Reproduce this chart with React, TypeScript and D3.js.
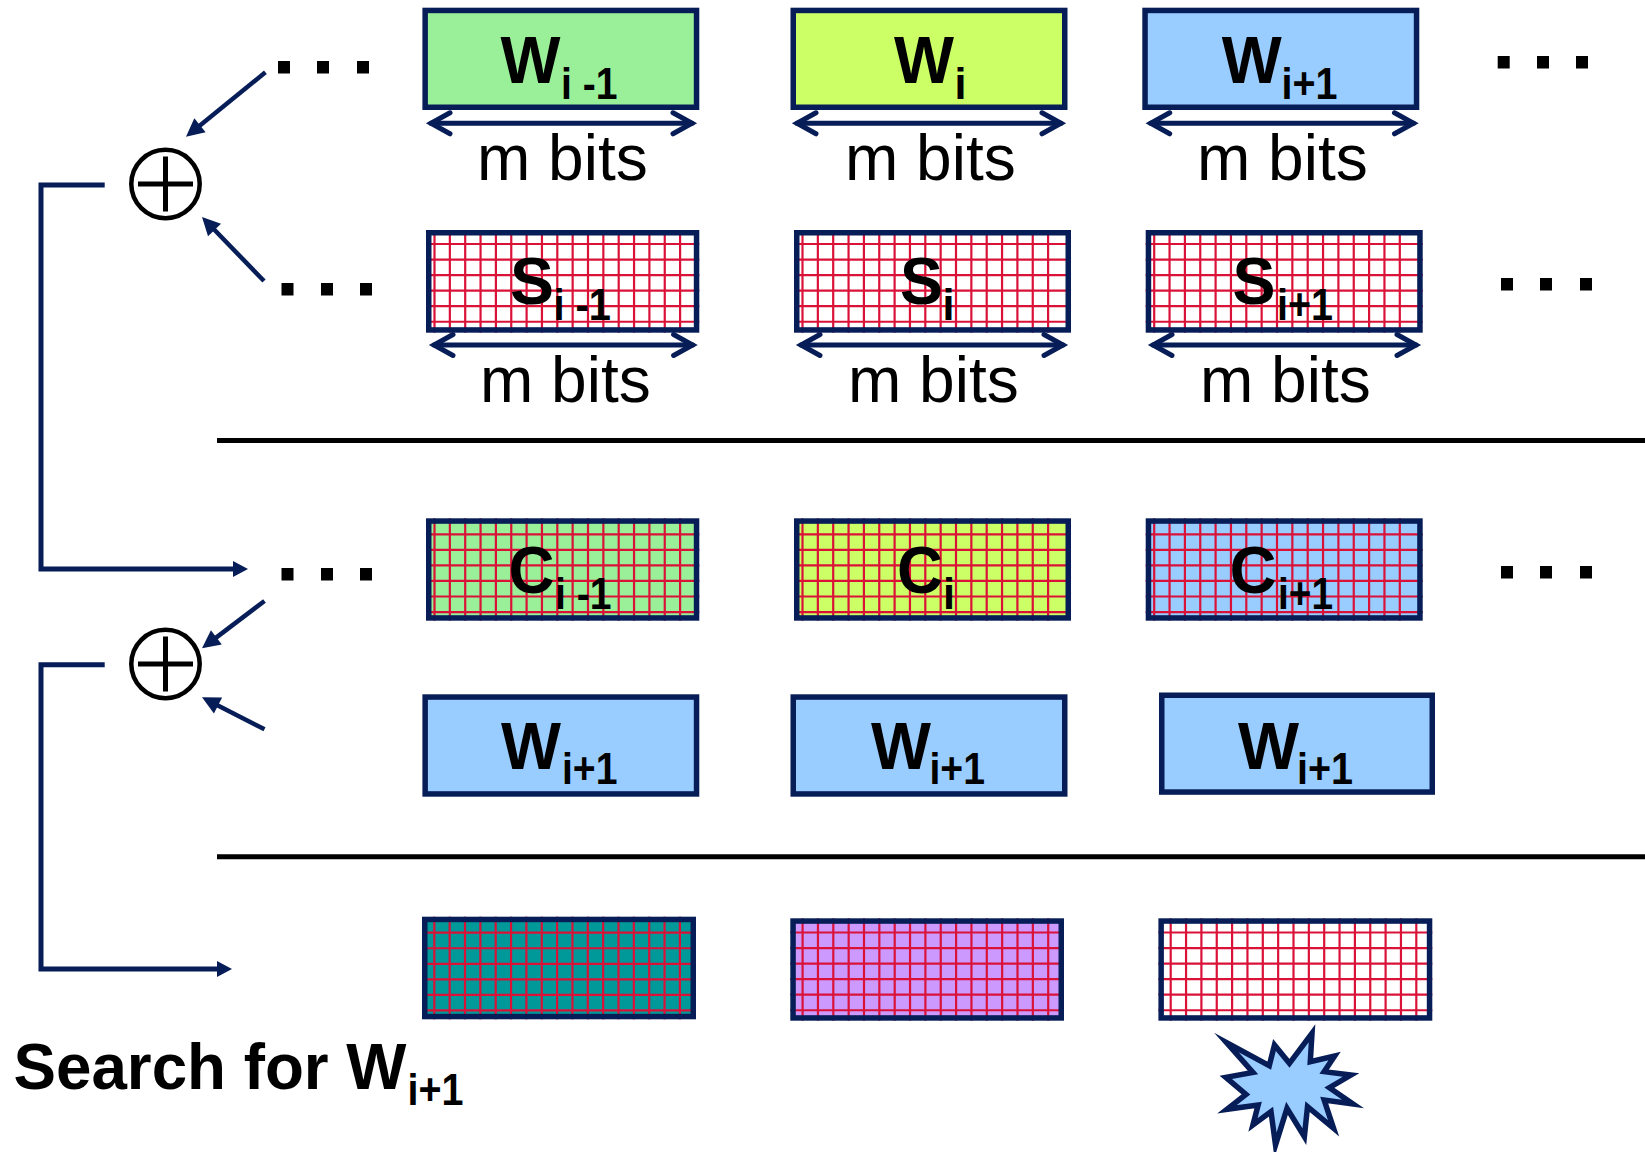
import React from "react";
import * as d3 from "d3";

// ---- content ----
const subscripts = ["i -1", "i", "i+1"];
const nextSubscripts = ["i+1", "i+1", "i+1"];
const rowLetters = ["W", "S", "C", "W"];
const wordFills = ["#99F099", "#CCFF66", "#99CCFF"];
const nextFill = "#99CCFF";
const resultFills = ["#009999", "#CC99FF", "#FFFFFF"];
const bitsLabel = "m bits";
const titleWord = "Search for W";
const titleSub = "i+1";

const NAVY = "#071D57";
const RED = "#DA1238";
const FONT = "'Liberation Sans', Arial, sans-serif";

// ---- layout (reference pixels) ----
const W = 1645, H = 1152;
const colsA = [[422.4, 699.3], [790.5, 1067.5], [1142.3, 1419.3]];
const colsB = [[426, 699.3], [794, 1071], [1145.7, 1422.7]];
const colsW2 = [[422.4, 699.3], [790.5, 1067.5], [1159, 1435]];
const colsG = [[422, 696], [790.3, 1064], [1158.4, 1432.3]];
const rowW = [7.7, 110];
const rowS = [230, 332.7];
const rowC = [518.3, 620.7];
const rowsW2 = [[694.3, 796.7], [694.3, 796.7], [692.5, 794.8]];
const rowsG = [[916.7, 1019.3], [918.3, 1020.7], [918.3, 1020.7]];

const gridVCount = 17, gridHCount = 6, gridVStep = 15.35, gridHStep = 15.55;

const labelGeom = [
  { base: 82.7, subBase: 98.7, mains: [[500.5, 60], [894, 60], [1221.7, 60]], subs: [[561, 56.5], [954.5, 12], [1281.5, 56]] },
  { base: 304, subBase: 320, mains: [[510, 44], [900, 43], [1232.5, 43]], subs: [[553.5, 57.5], [942.5, 12], [1277, 56]] },
  { base: 593, subBase: 609, mains: [[508.6, 46], [897, 46], [1229.5, 47]], subs: [[555, 56.5], [943, 12], [1278, 55]] },
  { base: 769, subBase: 784, mains: [[501, 60], [871, 60], [1238, 61]], subs: [[562, 55.5], [929.5, 55.5], [1297, 56]] },
];
const bitsRows = [
  { base: 179.5, textX: [477, 845, 1197], arrowY: 123.3, arrows: [[426, 697], [792, 1066], [1145.7, 1418.5]] },
  { base: 401.5, textX: [480, 848, 1200], arrowY: 345, arrows: [[429, 697.6], [796, 1068], [1148, 1421]] },
];
const dotRows = [
  { y: 61, xs: [278, 317, 357] },
  { y: 283, xs: [281.5, 321, 360] },
  { y: 568, xs: [281.5, 321, 360] },
  { y: 56, xs: [1497.7, 1537, 1576] },
  { y: 278, xs: [1501, 1540, 1580] },
  { y: 566, xs: [1501, 1540, 1580] },
];
const xorCentres = [[165.5, 184], [165.5, 664]];
const inputArrows = [
  [[265.4, 72.3], [186, 136.7]],
  [[264, 281], [202, 217]],
  [[264.5, 601], [202, 648.3]],
  [[264.5, 729.3], [202, 697.3]],
];
const connectors = [
  [[104.7, 185], [41, 185], [41, 569], [248, 569]],
  [[104.7, 664.7], [41, 664.7], [41, 969], [232, 969]],
];
const separators = [440.6, 856.7];
const starPoints = [
  [610, 460], [605, 545], [675, 528], [645, 575], [722, 585], [660, 623], [728, 672], [645, 660],
  [672, 745], [597, 680], [588, 770], [538, 685], [505, 795], [492, 695], [440, 735], [455, 675],
  [365, 688], [420, 643], [362, 592], [440, 577], [364, 488], [487, 557], [502, 495], [545, 550],
];
const starX = d3.scaleLinear().domain([0, 1568]).range([1100, 1645]);
const starY = d3.scaleLinear().domain([0, 816]).range([880, 1152]);

const path = d3.line<number[]>().x((d) => d[0]).y((d) => d[1]);

function head(from: number[], tip: number[], len: number, half: number) {
  const dx = tip[0] - from[0], dy = tip[1] - from[1];
  const n = Math.hypot(dx, dy);
  const ux = dx / n, uy = dy / n;
  const bx = tip[0] - ux * len, by = tip[1] - uy * len;
  return [[tip[0], tip[1]], [bx - uy * half, by + ux * half], [bx + uy * half, by - ux * half]];
}

function Box({ x, y, fill, grid, gx, gy }: any) {
  const vx = d3.scaleLinear().domain([0, 1]).range([x[0] + gx, x[0] + gx + gridVStep]);
  const hy = d3.scaleLinear().domain([0, 1]).range([y[0] + gy, y[0] + gy + gridHStep]);
  return (
    <g>
      <rect x={x[0] + 2.75} y={y[0] + 2.75} width={x[1] - x[0] - 5.5} height={y[1] - y[0] - 5.5} fill={fill} />
      {grid &&
        d3.range(gridVCount).map((i) => (
          <line key={"v" + i} x1={vx(i)} x2={vx(i)} y1={y[0]} y2={y[1]} stroke={RED} strokeWidth={2.2} />
        ))}
      {grid &&
        d3.range(gridHCount).map((i) => (
          <line key={"h" + i} x1={x[0]} x2={x[1]} y1={hy(i)} y2={hy(i)} stroke={RED} strokeWidth={2.2} />
        ))}
      <rect x={x[0] + 2.75} y={y[0] + 2.75} width={x[1] - x[0] - 5.5} height={y[1] - y[0] - 5.5} fill="none" stroke={NAVY} strokeWidth={5.5} />
    </g>
  );
}

function Label({ row, col, sub }: any) {
  const g = labelGeom[row];
  const [mx, mw] = g.mains[col];
  const [sx, sw] = g.subs[col];
  return (
    <g fontFamily={FONT} fontWeight="bold" fill="#000">
      <text x={mx} y={g.base} fontSize={67} textLength={mw} lengthAdjust="spacingAndGlyphs">{rowLetters[row]}</text>
      <text x={sx} y={g.subBase} fontSize={44} textLength={sw} lengthAdjust="spacingAndGlyphs">{sub}</text>
    </g>
  );
}

function DoubleArrow({ x0, x1, y }: any) {
  return (
    <g fill="none" stroke={NAVY} strokeWidth={5} strokeLinecap="round" strokeLinejoin="miter">
      <path d={path([[x0 + 5, y], [x1 - 5, y]]) as string} />
      <path d={path([[x0 + 24, y - 10.5], [x0 + 5, y], [x0 + 24, y + 10.5]]) as string} />
      <path d={path([[x1 - 24, y - 10.5], [x1 - 5, y], [x1 - 24, y + 10.5]]) as string} />
    </g>
  );
}

export default function App() {
  return (
    <svg width={W} height={H} viewBox={`0 0 ${W} ${H}`} style={{ position: "absolute", left: 0, top: 0, display: "block", background: "#fff" }}>
      {/* boxes */}
      {colsA.map((x, i) => <Box key={"w" + i} x={x} y={rowW} fill={wordFills[i]} />)}
      {colsB.map((x, i) => <Box key={"s" + i} x={x} y={rowS} fill="#fff" grid gx={8.5} gy={14} />)}
      {colsB.map((x, i) => <Box key={"c" + i} x={x} y={rowC} fill={wordFills[i]} grid gx={8.5} gy={16} />)}
      {colsW2.map((x, i) => <Box key={"n" + i} x={x} y={rowsW2[i]} fill={nextFill} />)}
      {colsG.map((x, i) => <Box key={"g" + i} x={x} y={rowsG[i]} fill={resultFills[i]} grid gx={12.3} gy={i === 0 ? 16 : 14.2} />)}

      {/* labels */}
      {subscripts.map((s, i) => <Label key={"lw" + i} row={0} col={i} sub={s} />)}
      {subscripts.map((s, i) => <Label key={"ls" + i} row={1} col={i} sub={s} />)}
      {subscripts.map((s, i) => <Label key={"lc" + i} row={2} col={i} sub={s} />)}
      {nextSubscripts.map((s, i) => <Label key={"ln" + i} row={3} col={i} sub={s} />)}

      {/* m bits */}
      {bitsRows.map((r, ri) => (
        <g key={"b" + ri}>
          {r.arrows.map((a, i) => <DoubleArrow key={i} x0={a[0]} x1={a[1]} y={r.arrowY} />)}
          {r.textX.map((x, i) => (
            <text key={i} x={x} y={r.base} fontFamily={FONT} fontSize={64} fill="#000">{bitsLabel}</text>
          ))}
        </g>
      ))}

      {/* dots */}
      {dotRows.map((r, ri) => r.xs.map((x, i) => <rect key={ri + "-" + i} x={x} y={r.y} width={12} height={12.5} fill="#000" />))}

      {/* separators */}
      {separators.map((y) => <line key={y} x1={217} x2={W} y1={y} y2={y} stroke="#000" strokeWidth={5} />)}

      {/* XOR */}
      {xorCentres.map(([cx, cy]) => (
        <g key={cy} stroke="#000" fill="none">
          <circle cx={cx} cy={cy} r={34.2} strokeWidth={4.5} fill="#fff" />
          <line x1={cx - 27.5} x2={cx + 27.5} y1={cy} y2={cy} strokeWidth={5} />
          <line x1={cx} x2={cx} y1={cy - 27.5} y2={cy + 27.5} strokeWidth={5} />
        </g>
      ))}

      {/* input arrows */}
      {inputArrows.map(([from, tip], i) => (
        <g key={"ia" + i}>
          <path d={path([from, head(from, tip, 14, 0)[1]]) as string} fill="none" stroke={NAVY} strokeWidth={4.5} />
          <path d={(path(head(from, tip, 18, 9)) as string) + "Z"} fill={NAVY} />
        </g>
      ))}

      {/* connectors */}
      {connectors.map((c, i) => {
        const tip = c[c.length - 1];
        const prev = c[c.length - 2];
        const h = head(prev, tip, 15, 8);
        const body = [...c.slice(0, -1), [tip[0] - 15, tip[1]]];
        return (
          <g key={"c" + i}>
            <path d={path(body) as string} fill="none" stroke={NAVY} strokeWidth={5} strokeLinejoin="miter" />
            <path d={(path(h) as string) + "Z"} fill={NAVY} />
          </g>
        );
      })}

      {/* title */}
      <g fontFamily={FONT} fontWeight="bold" fill="#000">
        <text x={13.5} y={1088.5} fontSize={65} textLength={393} lengthAdjust="spacingAndGlyphs">{titleWord}</text>
        <text x={407.5} y={1104.5} fontSize={44} textLength={56} lengthAdjust="spacingAndGlyphs">{titleSub}</text>
      </g>

      {/* star */}
      <path
        d={(d3.line<number[]>().x((d) => starX(d[0])).y((d) => starY(d[1]))(starPoints) as string) + "Z"}
        fill="#99CCFF"
        stroke={NAVY}
        strokeWidth={5.5}
        strokeLinejoin="miter"
        strokeMiterlimit={12}
      />
    </svg>
  );
}
